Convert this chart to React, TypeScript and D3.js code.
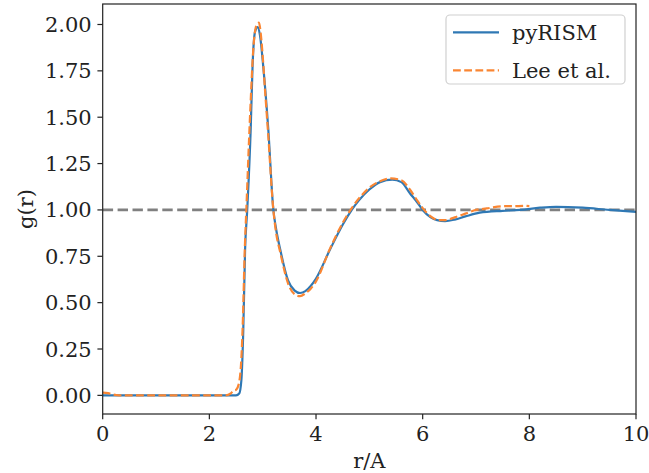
import React from "react";
import * as d3 from "d3";

const pyRismR = [0, 1, 2, 2.4, 2.5, 2.56, 2.6, 2.636, 2.67, 2.71, 2.775, 2.81, 2.856, 2.906, 2.95, 3.01, 3.105, 3.2, 3.25, 3.33, 3.475, 3.6, 3.7, 3.8, 3.9, 4.0, 4.26, 4.5, 4.67, 4.8, 5.0, 5.2, 5.43, 5.6, 5.76, 5.9, 6.0, 6.15, 6.27, 6.42, 6.6, 6.8, 7.07, 7.5, 7.83, 8.2, 8.5, 9.0, 9.5, 10];
const pyRismG = [0, 0, 0, 0, 0.0, 0.01, 0.08, 0.35, 0.785, 1.0, 1.434, 1.775, 1.96, 1.986, 1.94, 1.775, 1.434, 1.0, 0.9, 0.785, 0.62, 0.565, 0.552, 0.562, 0.59, 0.63, 0.785, 0.92, 1.0, 1.05, 1.11, 1.15, 1.163, 1.15, 1.09, 1.04, 1.0, 0.96, 0.945, 0.94, 0.948, 0.965, 0.985, 0.995, 1.0, 1.012, 1.017, 1.012, 1.0, 0.99];

const leeR = [0, 0.1, 0.2, 0.3, 1.0, 2.0, 2.3, 2.4, 2.45, 2.5, 2.55, 2.6, 2.63, 2.66, 2.7, 2.74, 2.78, 2.82, 2.86, 2.9, 2.93, 2.96, 3.0, 3.05, 3.1, 3.2, 3.25, 3.33, 3.48, 3.6, 3.7, 3.8, 3.9, 4.0, 4.26, 4.5, 4.67, 4.8, 5.0, 5.2, 5.4, 5.6, 5.76, 5.9, 6.0, 6.15, 6.3, 6.42, 6.6, 6.8, 7.0, 7.2, 7.5, 7.7, 7.9, 8.0];
const leeG = [0.015, 0.012, 0.004, 0, 0, 0, 0, 0.01, 0.025, 0.03, 0.06, 0.2, 0.42, 0.75, 1.05, 1.35, 1.62, 1.85, 1.97, 2.005, 2.01, 1.96, 1.83, 1.62, 1.42, 1.0, 0.88, 0.77, 0.6, 0.545, 0.535, 0.55, 0.575, 0.615, 0.79, 0.93, 1.01, 1.06, 1.12, 1.155, 1.17, 1.16, 1.11, 1.05, 1.01, 0.965, 0.945, 0.945, 0.96, 0.98, 1.0, 1.008, 1.02, 1.02, 1.022, 1.02];

const xTicks = [0, 2, 4, 6, 8, 10];
const yTicks = [0, 0.25, 0.5, 0.75, 1.0, 1.25, 1.5, 1.75, 2.0];
const seriesNames = ["pyRISM", "Lee et al."];
const axisLabels = { x: "r/A", y: "g(r)" };

const W = 649;
const H = 473;
const L = 102.7;
const R = 636;
const T = 4;
const B = 414;
const FONT = "'DejaVu Serif', serif";

export default function App() {
  const x = d3.scaleLinear().domain([0, 10]).range([L, R]);
  const y = d3.scaleLinear().domain([-0.1005, 2.1105]).range([B, T]);
  const line = d3
    .line<[number, number]>()
    .x((d) => x(d[0]))
    .y((d) => y(d[1]))
    .curve(d3.curveMonotoneX);
  const blue = line(pyRismR.map((r, i) => [r, pyRismG[i]] as [number, number])) || "";
  const orange = line(leeR.map((r, i) => [r, leeG[i]] as [number, number])) || "";

  return (
    <svg
      width={W}
      height={H}
      style={{ position: "absolute", left: 0, top: 0, background: "#fff" }}
      fontFamily={FONT}
    >
      <defs>
        <clipPath id="plot">
          <rect x={L} y={T} width={R - L} height={B - T} />
        </clipPath>
      </defs>
      <rect x={0} y={0} width={W} height={H} fill="#fff" />
      <g clipPath="url(#plot)">
        <line
          x1={L}
          x2={R}
          y1={y(1)}
          y2={y(1)}
          stroke="#808080"
          strokeWidth={2.8}
          strokeDasharray="10.4,4.5"
        />
        <path d={blue} fill="none" stroke="#2f78b4" strokeWidth={2.2} strokeLinejoin="round" />
        <path d={orange} fill="none" stroke="#fa8633" strokeWidth={2.2} strokeDasharray="7.8,3.4" />
      </g>
      <rect x={L} y={T} width={R - L} height={B - T} fill="none" stroke="#222" strokeWidth={1.2} />
      {xTicks.map((t) => (
        <g key={"x" + t}>
          <line x1={x(t)} x2={x(t)} y1={B} y2={B + 5.3} stroke="#222" strokeWidth={1.2} />
          <text x={x(t)} y={B + 27} fontSize={21} textAnchor="middle" fill="#222">
            {t}
          </text>
        </g>
      ))}
      {yTicks.map((t) => (
        <g key={"y" + t}>
          <line x1={L - 5.3} x2={L} y1={y(t)} y2={y(t)} stroke="#222" strokeWidth={1.2} />
          <text x={L - 11} y={y(t) + 7.5} fontSize={21} textAnchor="end" fill="#222">
            {t.toFixed(2)}
          </text>
        </g>
      ))}
      <text x={(L + R) / 2} y={467.5} fontSize={21} textAnchor="middle" fill="#222">
        {axisLabels.x}
      </text>
      <text
        transform={`translate(33,${(T + B) / 2}) rotate(-90)`}
        fontSize={21}
        textAnchor="middle"
        fill="#222"
      >
        {axisLabels.y}
      </text>
      <g>
        <rect x={446} y={15} width={179} height={69} rx={4} fill="#fff" fillOpacity={0.8} stroke="#d0d0d0" strokeWidth={1.2} />
        <line x1={453} x2={499} y1={32.3} y2={32.3} stroke="#2f78b4" strokeWidth={2.2} />
        <text x={512} y={39.8} fontSize={21} fill="#222">
          {seriesNames[0]}
        </text>
        <line x1={453} x2={499} y1={70.3} y2={70.3} stroke="#fa8633" strokeWidth={2.2} strokeDasharray="7.8,3.4" />
        <text x={512} y={77.8} fontSize={21} fill="#222">
          {seriesNames[1]}
        </text>
      </g>
    </svg>
  );
}
